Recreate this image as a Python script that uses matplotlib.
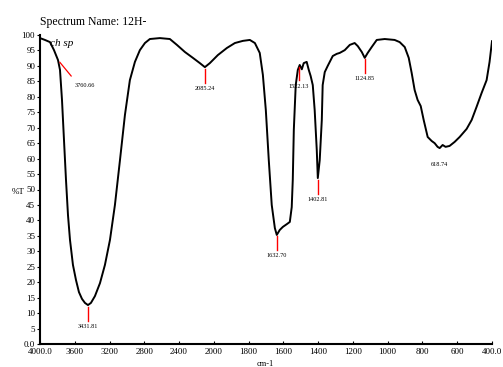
import numpy as np
import matplotlib
matplotlib.use("Agg")
import matplotlib.pyplot as plt

# ---- data ----
wavenumber = [4000, 3943, 3885, 3839, 3793, 3770, 3747, 3724, 3701, 3678, 3655, 3621,
              3586, 3552, 3517, 3483, 3448, 3414, 3368, 3310, 3253, 3195, 3138, 3080,
              3023, 2966, 2908, 2851, 2793, 2736, 2621, 2506, 2425, 2333, 2241, 2161,
              2103, 2046, 1977, 1925, 1879, 1833, 1793, 1764, 1736, 1718, 1701, 1684,
              1667, 1649, 1638, 1621, 1603, 1580, 1563, 1552, 1546, 1540, 1529, 1517,
              1506, 1494, 1483, 1466, 1454, 1443, 1431, 1420, 1408, 1402, 1391, 1379,
              1374, 1362, 1345, 1316, 1293, 1276, 1247, 1218, 1190, 1172, 1149, 1132,
              1115, 1092, 1063, 1017, 960, 931, 902, 879, 862, 845, 828, 810, 793, 770,
              747, 730, 713, 701, 684, 667, 644, 615, 586, 546, 517, 489, 460, 431,
              414, 400]
transmittance = [99.0, 98.4, 97.7, 95.1, 91.9, 88.7, 79.0, 66.0, 53.1, 41.7, 33.7, 25.6,
                 20.7, 16.8, 14.6, 13.3, 12.6, 13.3, 15.5, 19.7, 25.6, 33.7, 45.0, 59.5,
                 74.1, 85.4, 91.3, 95.1, 97.4, 98.7, 99.0, 98.7, 96.8, 94.5, 92.6, 90.9,
                 89.6, 90.9, 93.5, 95.8, 97.4, 98.1, 98.4, 97.4, 94.2, 87.1, 75.7, 59.5,
                 45.0, 37.5, 35.3, 36.9, 37.9, 38.8, 39.5, 44.3, 53.1, 69.3, 83.8, 88.7,
                 90.3, 88.9, 90.9, 91.3, 88.7, 86.7, 83.8, 75.7, 62.8, 53.7, 59.5, 72.5,
                 83.8, 88.0, 90.0, 93.2, 93.9, 94.2, 95.1, 96.8, 97.4, 96.4, 94.5, 92.6,
                 94.2, 96.1, 98.4, 98.7, 98.4, 97.7, 96.1, 92.6, 87.7, 82.2, 79.0, 77.0,
                 72.5, 67.0, 65.7, 65.0, 63.8, 63.4, 64.4, 63.8, 64.1, 65.4, 67.0, 69.6,
                 72.5, 76.7, 81.2, 85.4, 91.3, 98.0]

peak_wn = [3793, 3448, 2103, 1638, 1510, 1402, 1132, 701]
peak_t = [91.9, 12.6, 89.6, 35.3, 90.3, 53.7, 92.6, 63.4]
peak_labels = ["3760.66", "3431.81", "2085.24", "1632.70", "1522.13", "1402.81", "1124.85", "618.74"]

xtick_values = [4000, 3600, 3200, 2800, 2400, 2000, 1800, 1600, 1400, 1200, 1000, 800, 600, 400]
xtick_labels = ["4000.0", "3600", "3200", "2800", "2400", "2000", "1800", "1600", "1400",
                "1200", "1000", "800", "600", "400.0"]
ytick_values = list(range(0, 101, 5))
ytick_labels = ["0.0"] + [str(v) for v in range(5, 101, 5)]

title_text = "Spectrum Name: 12H-"
sub_text = "ch sp"
ylabel_text = "%T"
xlabel_text = "cm-1"

# ---- piecewise-linear wavenumber axis (scale changes at 2000) ----
def fwd(x):
    x = np.asarray(x, dtype=float)
    return np.where(x >= 2000, (x - 2000) / 400.0, (x - 2000) / 200.0)

def inv(u):
    u = np.asarray(u, dtype=float)
    return np.where(u >= 0, 2000 + 400.0 * u, 2000 + 200.0 * u)

plt.rcParams['font.family'] = ['Liberation Serif', 'DejaVu Serif']

fig = plt.figure(figsize=(5.03, 3.67), dpi=100)
ax = fig.add_axes([40 / 503, 1 - 344 / 367, 452 / 503, (344 - 35) / 367])
ax.set_xscale('function', functions=(fwd, inv))
ax.plot(wavenumber, transmittance, color='black', lw=1.4, solid_joinstyle='round')
ax.set_xlim(4000, 400)
ax.set_ylim(0, 100)

ax.set_xticks(xtick_values)
ax.set_xticklabels(xtick_labels, fontsize=6.5)
ax.set_yticks(ytick_values)
ax.set_yticklabels(ytick_labels, fontsize=6.5)
ax.xaxis.set_minor_locator(matplotlib.ticker.NullLocator())
ax.tick_params(axis='x', direction='in', length=2.5, width=0.8, pad=3)
ax.tick_params(axis='y', direction='out', length=2.5, width=0.8, pad=1)
for s in ['top', 'right']:
    ax.spines[s].set_visible(False)
for s in ['left', 'bottom']:
    ax.spines[s].set_linewidth(1.5)

# peak annotations
for i, (wn, t, lab) in enumerate(zip(peak_wn, peak_t, peak_labels)):
    if i == 0:
        ax.annotate("", xy=(wn, t), xytext=(3620, 86),
                    arrowprops=dict(arrowstyle='-', color='red', lw=0.9))
        ax.text(3600, 84.5, lab, fontsize=4.5, ha='left', va='top')
    elif lab == "618.74":
        ax.text(wn, t - 4.5, lab, fontsize=4.5, ha='center', va='top')
    else:
        ax.plot([wn, wn], [t - 0.5, t - 5], color='red', lw=1.0)
        ax.text(wn, t - 6.0, lab, fontsize=4.5, ha='center', va='top')

fig.text(40 / 503, 1 - 22 / 367, title_text, fontsize=8.5, ha='left', va='center')
fig.text(50 / 503, 1 - 44 / 367, sub_text, fontsize=8, ha='left', va='center', style='italic')
fig.text(12 / 503, 1 - 192 / 367, ylabel_text, fontsize=6.5, ha='left', va='center')
fig.text(265 / 503, 1 - 364 / 367, xlabel_text, fontsize=6, ha='center', va='center')

fig.savefig("out.png", dpi=100)
